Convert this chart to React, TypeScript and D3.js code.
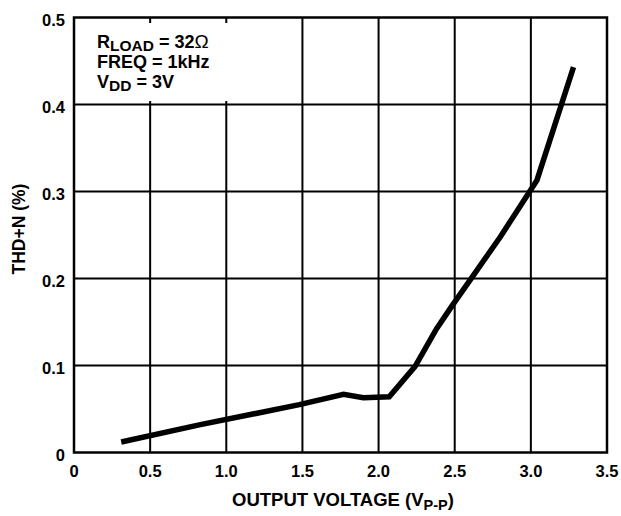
import React from "react";
import * as d3 from "d3";

const voltage = [0.31, 0.83, 1.48, 1.77, 1.9, 2.07, 2.24, 2.38, 2.48, 2.8, 3.04, 3.28];
const thdn = [0.012, 0.032, 0.055, 0.067, 0.063, 0.064, 0.099, 0.142, 0.168, 0.248, 0.313, 0.443];
const xTicks = [0, 0.5, 1.0, 1.5, 2.0, 2.5, 3.0, 3.5];
const xTickLabels = ["0", "0.5", "1.0", "1.5", "2.0", "2.5", "3.0", "3.5"];
const yTicks = [0, 0.1, 0.2, 0.3, 0.4, 0.5];
const yTickLabels = ["0", "0.1", "0.2", "0.3", "0.4", "0.5"];

const W = 621;
const H = 516;
const L = 74, R = 607, T = 17.5, B = 452.5;
const FONT = "'Liberation Sans', Arial, Helvetica, sans-serif";

export default function App() {
  const x = d3.scaleLinear().domain([0, 3.5]).range([L, R]);
  const y = d3.scaleLinear().domain([0, 0.5]).range([B, T]);
  const pts: [number, number][] = voltage.map((v, i) => [v, thdn[i]]);
  const line = d3
    .line<[number, number]>()
    .x((d) => x(d[0]))
    .y((d) => y(d[1]));

  return (
    <svg
      width={W}
      height={H}
      viewBox={`0 0 ${W} ${H}`}
      style={{ position: "absolute", left: 0, top: 0, background: "#fff" }}
      fontFamily={FONT}
      fontWeight="bold"
    >
      <rect x={0} y={0} width={W} height={H} fill="#fff" />
      {/* grid */}
      {xTicks.slice(1, -1).map((t) => (
        <line key={"gx" + t} x1={x(t)} x2={x(t)} y1={T} y2={B} stroke="#000" strokeWidth={2} />
      ))}
      {yTicks.slice(1, -1).map((t) => (
        <line key={"gy" + t} x1={L} x2={R} y1={y(t)} y2={y(t)} stroke="#000" strokeWidth={2} />
      ))}
      {/* white box behind annotation */}
      <rect x={L + 2} y={23} width={182} height={78} fill="#fff" />
      <rect x={L} y={T} width={R - L} height={B - T} fill="none" stroke="#000" strokeWidth={2.5} />

      {/* data */}
      <path d={line(pts) || ""} fill="none" stroke="#000" strokeWidth={5.5} strokeLinejoin="miter" strokeLinecap="butt" />

      {/* y tick labels */}
      {yTicks.map((t, i) => (
        <text key={"yl" + t} x={65} y={y(t) + 3} dy="0.35em" textAnchor="end" fontSize={16.5} fill="#000">
          {yTickLabels[i]}
        </text>
      ))}
      {/* x tick labels */}
      {xTicks.map((t, i) => (
        <text key={"xl" + t} x={x(t)} y={477} textAnchor="middle" fontSize={16.5} fill="#000">
          {xTickLabels[i]}
        </text>
      ))}

      {/* x title */}
      <text x={343} y={506} textAnchor="middle" fontSize={18.5} fill="#000">
        OUTPUT VOLTAGE (V<tspan fontSize={14.5} dy={4}>P-P</tspan>
        <tspan dy={-4}>)</tspan>
      </text>

      {/* y title */}
      <text
        transform={`translate(25, 229) rotate(-90)`}
        textAnchor="middle"
        fontSize={17.5}
        fill="#000"
      >
        THD+N (%)
      </text>

      {/* annotation */}
      <g fontSize={18} fill="#000">
        <text x={97} y={47.5}>
          R<tspan fontSize={15.5} dy={3}>LOAD</tspan>
          <tspan dy={-3}> = 32</tspan>
          <tspan fontWeight="normal" fontSize={19}>Ω</tspan>
        </text>
        <text x={97} y={68}>FREQ = 1kHz</text>
        <text x={97} y={88}>
          V<tspan fontSize={15.5} dy={3}>DD</tspan>
          <tspan dy={-3}> = 3V</tspan>
        </text>
      </g>
    </svg>
  );
}
